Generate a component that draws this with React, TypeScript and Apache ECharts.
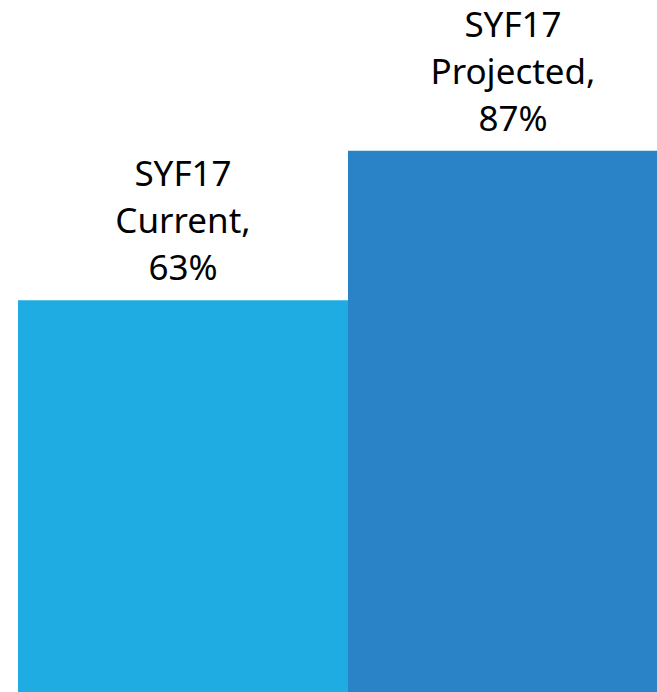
import React, { useEffect, useRef } from "react";
import * as echarts from "echarts";

const categories = ["SYF17 Current", "SYF17 Projected"];
const values = [63, 87];
const colors = ["#1FACE2", "#2983C6"];

export default function App() {
  const ref = useRef<HTMLDivElement>(null);
  useEffect(() => {
    if (!ref.current) return;
    const chart = echarts.init(ref.current, undefined, { renderer: "svg" });
    chart.setOption({
      animation: false,
      grid: { left: 18, right: 0, top: 70, bottom: 0 },
      xAxis: {
        type: "category",
        data: categories,
        show: false,
      },
      yAxis: { type: "value", min: 0, max: 100, show: false },
      series: [
        {
          type: "bar",
          barCategoryGap: 0,
          barGap: 0,
          data: values.map((v, i) => ({ value: v, itemStyle: { color: colors[i] } })),
          label: {
            show: true,
            position: "top",
            distance: 10,
            fontFamily: "Noto Sans",
            fontSize: 35,
            lineHeight: 47,
            color: "#000000",
            align: "center",
            formatter: (p: any) => p.name.replace(" ", "\n") + ",\n" + p.value + "%",
          },
        },
      ],
    });
    return () => chart.dispose();
  }, []);
  return (
    <div style={{ position: "absolute", left: 0, top: 0, width: 657, height: 692, overflow: "hidden", background: "#fff" }}>
      <div ref={ref} style={{ width: 678, height: 692 }} />
    </div>
  );
}
